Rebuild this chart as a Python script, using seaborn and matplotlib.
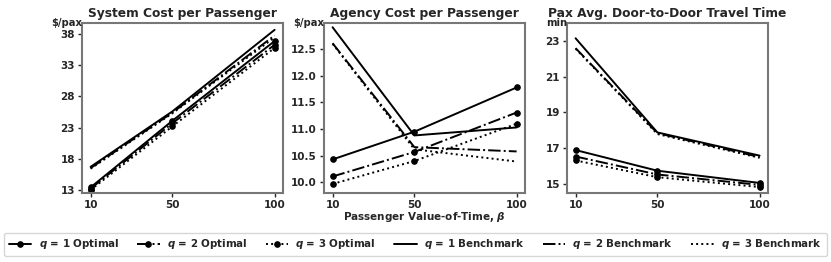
import pandas as pd
import seaborn as sns
import matplotlib.pyplot as plt

# ================= 数据 =================
beta = [10, 50, 100]
q_levels = [1, 2, 3]

# System cost per passenger ($/pax)
sys_opt = {1: [13.4, 24.1, 36.9], 2: [13.2, 23.7, 36.3], 3: [13.0, 23.2, 35.8]}
sys_bench = {1: [16.7, 25.6, 38.7], 2: [16.5, 25.4, 37.8], 3: [16.4, 25.3, 37.5]}

# Agency cost per passenger ($/pax)
agency_opt = {1: [10.43, 10.95, 11.78], 2: [10.11, 10.57, 11.31], 3: [9.97, 10.40, 11.10]}
agency_bench = {1: [12.91, 10.88, 11.03], 2: [12.61, 10.66, 10.58], 3: [12.60, 10.62, 10.39]}

# Door-to-door travel time (min)
time_opt = {1: [16.91, 15.76, 15.08], 2: [16.55, 15.55, 14.97], 3: [16.33, 15.40, 14.85]}
time_bench = {1: [23.13, 17.89, 16.60], 2: [22.58, 17.85, 16.52], 3: [22.55, 17.80, 16.48]}

titles = ['System Cost per Passenger', 'Agency Cost per Passenger',
          'Pax Avg. Door-to-Door Travel Time']
units = ['\\$/pax', '\\$/pax', 'min']
yticks = [[13, 18, 23, 28, 33, 38],
          [10.0, 10.5, 11.0, 11.5, 12.0, 12.5],
          [15, 17, 19, 21, 23]]
ylims = [(12.5, 39.8), (9.8, 12.99), (14.52, 23.98)]
panels = [(sys_opt, sys_bench), (agency_opt, agency_bench), (time_opt, time_bench)]

styles = {1: '-', 2: '-.', 3: ':'}

# ================= 绘图 =================
sns.set_style('white')
plt.rcParams['font.family'] = ['DejaVu Sans']
plt.rcParams['font.weight'] = 'bold'

fig = plt.figure(figsize=(8.31, 2.62), dpi=100)
lefts = [82 / 831, 324 / 831, 567 / 831]
axes = [fig.add_axes([l, 1 - 193 / 262, 201 / 831, 170 / 262]) for l in lefts]

for i, ax in enumerate(axes):
    opt, bench = panels[i]
    for q in q_levels:
        df = pd.DataFrame({'beta': beta, 'val': opt[q]})
        sns.lineplot(data=df, x='beta', y='val', ax=ax, color='black',
                     linestyle=styles[q], marker='o', markersize=4, lw=1.4,
                     markeredgecolor='black', label=f'$q$ = {q} Optimal')
    for q in q_levels:
        df = pd.DataFrame({'beta': beta, 'val': bench[q]})
        sns.lineplot(data=df, x='beta', y='val', ax=ax, color='black',
                     linestyle=styles[q], lw=1.4, label=f'$q$ = {q} Benchmark')
    ax.set_title(titles[i], fontsize=8.8, fontweight='bold', pad=4)
    ax.set_xticks(beta)
    ax.set_yticks(yticks[i])
    ax.set_ylim(*ylims[i])
    ax.set_xlim(5.8, 104.1)
    if i == 1:
        ax.set_yticklabels([f'{v:.1f}' for v in yticks[i]])
        ax.set_xlabel(r'Passenger Value-of-Time, $\beta$', fontsize=7.5,
                      fontweight='bold', labelpad=0)
    else:
        ax.set_xlabel('')
    ax.set_ylabel('')
    ax.tick_params(axis='both', labelsize=7.5, length=3, width=1, left=True,
                   bottom=True, pad=2)
    for lab in ax.get_xticklabels() + ax.get_yticklabels():
        lab.set_fontweight('bold')
    for sp in ax.spines.values():
        sp.set_color('#777777')
        sp.set_linewidth(1.5)
    ax.text(0, 1.0, units[i], transform=ax.transAxes, ha='right', va='center',
            fontsize=7.2, fontweight='bold')
    handles, labels = ax.get_legend_handles_labels()
    ax.get_legend().remove()

fig.legend(handles, labels, loc='lower center', bbox_to_anchor=(0.5, 0.004),
           ncol=6, frameon=True, prop={'weight': 'bold', 'size': 7.4},
           handlelength=2.2, handletextpad=0.7, columnspacing=1.75,
           borderpad=0.45, fancybox=True)

plt.savefig('out.png', dpi=100)
